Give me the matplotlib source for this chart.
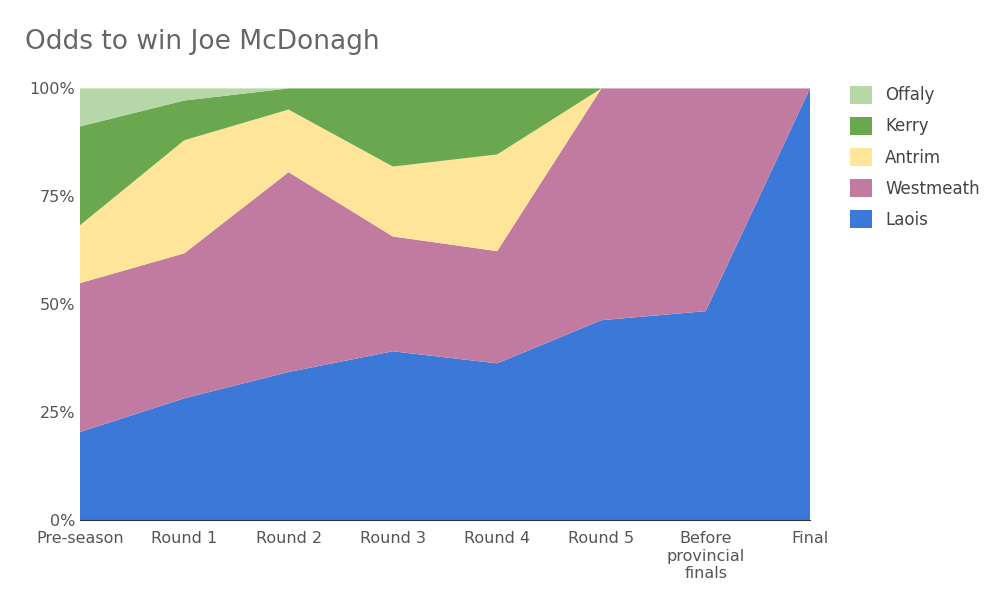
import matplotlib
matplotlib.use("Agg")
import matplotlib.pyplot as plt
import numpy as np

stages = ["Pre-season", "Round 1", "Round 2", "Round 3", "Round 4", "Round 5",
          "Before\nprovincial\nfinals", "Final"]
laois = [20.4, 28.2, 34.3, 39.1, 36.3, 46.3, 48.4, 100.0]
westmeath = [34.5, 33.6, 46.3, 26.6, 26.0, 53.7, 51.6, 0.0]
antrim = [13.4, 26.2, 14.5, 16.2, 22.4, 0.0, 0.0, 0.0]
kerry = [22.9, 9.2, 4.9, 18.1, 15.3, 0.0, 0.0, 0.0]
offaly = [8.8, 2.8, 0.0, 0.0, 0.0, 0.0, 0.0, 0.0]

series = [("Laois", laois, "#3c78d8"), ("Westmeath", westmeath, "#c27ba0"),
          ("Antrim", antrim, "#ffe599"), ("Kerry", kerry, "#6aa84f"),
          ("Offaly", offaly, "#b6d7a8")]

fig = plt.figure(figsize=(10, 6.14), dpi=100)
ax = fig.add_axes([0.08, 0.153, 0.73, 0.703])
x = np.arange(len(stages))
ax.stackplot(x, *[s[1] for s in series], colors=[s[2] for s in series],
             labels=[s[0] for s in series])
ax.set_xlim(0, len(stages) - 1)
ax.set_ylim(0, 100)
ax.set_yticks([0, 25, 50, 75, 100])
ax.set_yticklabels(["0%", "25%", "50%", "75%", "100%"])
ax.set_xticks(x)
ax.set_xticklabels(stages)
for sp in ["top", "right", "left"]:
    ax.spines[sp].set_visible(False)
ax.spines["bottom"].set_color("#333333")
ax.tick_params(length=0, labelsize=11.5, colors="#555555")
ax.tick_params(axis="x", pad=8)
h, l = ax.get_legend_handles_labels()
fig.legend(h[::-1], l[::-1], loc="upper left", bbox_to_anchor=(0.835, 0.885),
           frameon=False, fontsize=12, labelcolor="#444444",
           handlelength=1.3, handleheight=1.3, labelspacing=0.75)
fig.text(0.025, 0.92, "Odds to win Joe McDonagh", fontsize=19, color="#666666")
fig.savefig("out.png")
